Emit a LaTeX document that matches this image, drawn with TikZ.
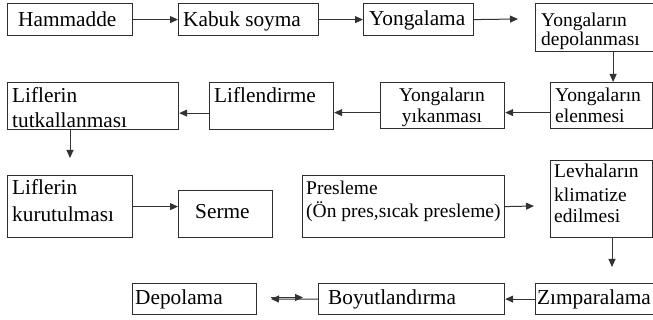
\documentclass[tikz,border=0pt]{standalone}
\usepackage{fontspec}
\setmainfont{Liberation Serif}
\usetikzlibrary{arrows.meta}
\definecolor{boxc}{HTML}{2E2E2E}
\definecolor{linec}{HTML}{333333}
\tikzset{
  box/.style={draw=boxc, line width=1.2pt, inner sep=0pt, anchor=north west},
  arr/.style={draw=linec, line width=1pt, -{Triangle[length=8pt,width=7pt]}},
  txt/.style={inner sep=0pt, anchor=base west, text=black, font=\fontsize{21.3}{21.3}\selectfont},
  txts/.style={txt, font=\fontsize{19.5}{19.5}\selectfont},
}
\begin{document}
\begin{tikzpicture}[x=1pt,y=-1pt]
\useasboundingbox (0,0) rectangle (653,320);
% boxes
\node[box, minimum width=125pt, minimum height=32pt] (ham)  at (7,3) {};
\node[box, minimum width=140pt, minimum height=32pt] (kab)  at (178,3) {};
\node[box, minimum width=110pt, minimum height=32pt] (yong) at (363,3) {};
\node[box, minimum width=120pt, minimum height=48pt] (dep)  at (535,3) {};
\node[box, minimum width=171pt, minimum height=47pt] (tut)  at (7,82) {};
\node[box, minimum width=124pt, minimum height=47pt] (lif)  at (209,82) {};
\node[box, minimum width=124pt, minimum height=46pt] (yik)  at (380,82) {};
\node[box, minimum width=102pt, minimum height=46pt] (elen) at (550,82) {};
\node[box, minimum width=125pt, minimum height=62pt] (kur)  at (7,175) {};
\node[box, minimum width=94pt,  minimum height=47pt] (ser)  at (178,190) {};
\node[box, minimum width=202pt, minimum height=62pt] (pres) at (302,175) {};
\node[box, minimum width=102pt, minimum height=77pt] (lev)  at (550,160) {};
\node[box, minimum width=124pt, minimum height=31pt] (depo) at (132,283) {};
\node[box, minimum width=186pt, minimum height=31pt] (boy)  at (318,283) {};
\node[box, minimum width=120pt, minimum height=31pt] (zim)  at (535,283) {};
% texts
\node[txt] (tham) at (18,27) {Hammadde};
\node[txt] (tkab) at (183,27) {Kabuk soyma};
\node[txt] (tyong) at (369,26) {Yongalama};
\node[txts] (tdepa) at (541,27) {Yongaların};
\node[txts] (tdepb) at (541,46) {depolanması};
\node[txt] (ttuta) at (12,103) {Liflerin};
\node[txt] (ttutb) at (12,128) {tutkallanması};
\node[txt] (tlif) at (214,103) {Liflendirme};
\node[txts, anchor=base] (tyika) at (442,102) {Yongaların};
\node[txts, anchor=base] (tyikb) at (442,123) {yıkanması};
\node[txts] (telena) at (555,102) {Yongaların};
\node[txts] (telenb) at (555,123) {elenmesi};
\node[txt] (tkura) at (12,195) {Liflerin};
\node[txt] (tkurb) at (12,222) {kurutulması};
\node[txt] (tser) at (195,219) {Serme};
\node[txts] (tpresa) at (306,195) {Presleme};
\node[txts] (tpresb) at (306,218) {(Ön pres,sıcak presleme)};
\node[txts] (tleva) at (554,178) {Levhaların};
\node[txts] (tlevb) at (554,202) {klimatize};
\node[txts] (tlevc) at (554,223) {edilmesi};
\node[txt] (tdepo) at (135,305) {Depolama};
\node[txt] (tboy) at (328,305) {Boyutlandırma};
\node[txt] (tzim) at (537,305) {Zımparalama};
% free ends
\coordinate (e1) at (518,19);
\coordinate (e2) at (70,158);
\coordinate (e3) at (534,206);
\coordinate (e4) at (612,267);
\coordinate (e5) at (271,299);
\coordinate (e6) at (303,297.5);
% connectors
\draw[arr] (ham.east) -- (kab.west);
\draw[arr] (kab.east) -- (yong.west);
\draw[arr] (yong.east) -- (e1);
\draw[arr] ([xshift=17.5pt]dep.south) -- ([xshift=17.5pt]dep.south |- elen.north);
\draw[arr] ([yshift=-7pt]elen.west) -- ([yshift=-7pt]yik.east);
\draw[arr] ([yshift=-7pt]yik.west) -- ([yshift=-7pt]yik.west -| lif.east);
\draw[arr] ([yshift=-7pt]lif.west) -- ([yshift=-7pt]lif.west -| tut.east);
\draw[arr] (tut.south -| e2) -- (e2);
\draw[arr] (kur.east) -- (kur.east -| ser.west);
\draw[arr] (pres.east) -- (e3);
\draw[arr] (lev.south -| e4) -- (e4);
\draw[arr] (zim.west) -- (boy.east);
\draw[arr] (boy.west) -- (e5);
\draw[arr] (e5 |- e6) -- (e6);
\end{tikzpicture}
\end{document}
